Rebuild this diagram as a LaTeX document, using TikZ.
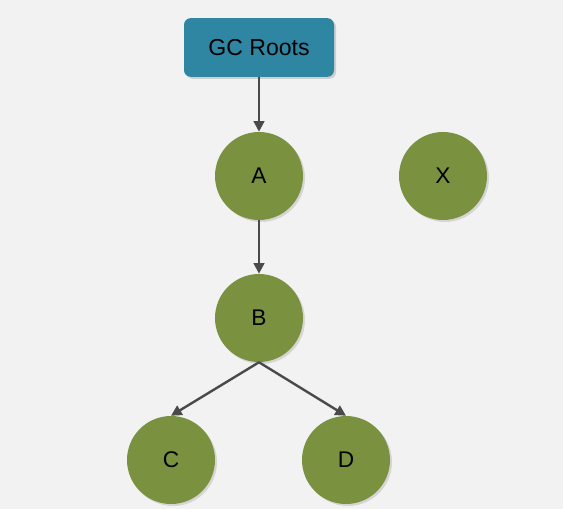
\documentclass[tikz,border=0pt]{standalone}
\usepackage{fontspec}
\setmainfont{Liberation Sans}
\usepackage{xcolor}
\usepackage{tikz}
\usetikzlibrary{positioning,shadows,arrows.meta}
\definecolor{bggray}{HTML}{F2F2F2}
\definecolor{rootteal}{HTML}{2E86A3}
\definecolor{objgreen}{HTML}{7A9140}
\definecolor{linkgray}{HTML}{4A4A4A}

\tikzset{
  objnode/.style={circle, fill=objgreen, minimum size=66pt, inner sep=0pt,
    font=\fontsize{17}{20}\selectfont,
    drop shadow={opacity=0.25, shadow xshift=1.5pt, shadow yshift=-1.5pt}},
  rootbox/.style={rectangle, rounded corners=5pt, fill=rootteal, minimum width=112.5pt,
    minimum height=44pt, font=\fontsize{17.3}{20}\selectfont,
    drop shadow={opacity=0.3, shadow xshift=1.5pt, shadow yshift=-1.5pt}},
  link/.style={linkgray, line width=1.8pt, -{Triangle[length=8pt,width=8pt]}}
}

\begin{document}
\begin{tikzpicture}[x=0.75pt,y=-0.75pt]
      \fill[bggray] (0,0) rectangle (563,509);
      \useasboundingbox (0,0) rectangle (563,509);
      \node[rootbox] (roots) at (259,47.5) {GC Roots};
      \foreach \n/\x/\y in {A/259/176,X/443/176,B/259/318,C/171/460,D/346/460}
        \node[objnode] (\n) at (\x,\y) {\n};
      \draw[link] (roots) -- (A);
      \draw[link] (A) -- (B);
      \draw[link] (B.south) -- (C.north);
      \draw[link] (B.south) -- (D.north);
    \end{tikzpicture}
\end{document}
